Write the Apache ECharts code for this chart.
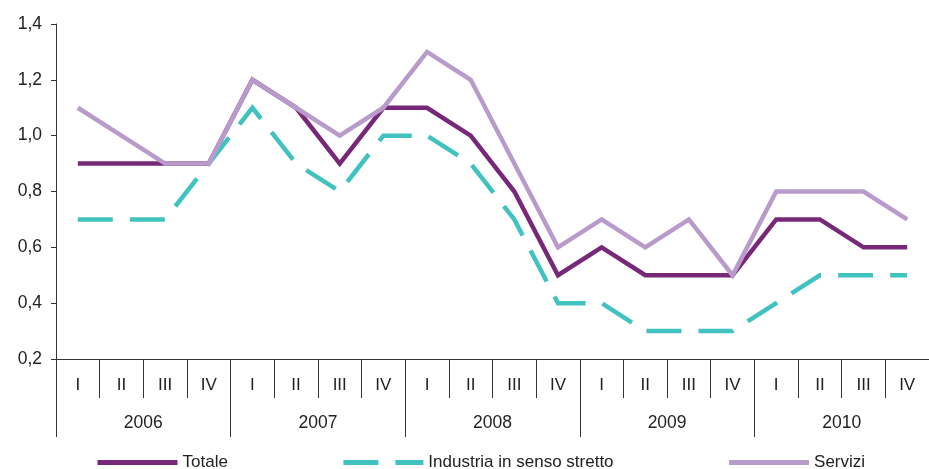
<!DOCTYPE html>
<html>
<head>
<meta charset="utf-8">
<script src="https://cdn.jsdelivr.net/npm/echarts@6/dist/echarts.min.js"></script>
<style>
  html, body { margin: 0; padding: 0; background: #fff; }
  #chart { width: 929px; height: 469px; }
</style>
</head>
<body>
<div id="chart"></div>
<script>
const quarters = ['I', 'II', 'III', 'IV', 'I', 'II', 'III', 'IV', 'I', 'II', 'III', 'IV',
  'I', 'II', 'III', 'IV', 'I', 'II', 'III', 'IV']
const years = ['2006', '2007', '2008', '2009', '2010']

const totale = [0.9, 0.9, 0.9, 0.9, 1.2, 1.1, 0.9, 1.1, 1.1, 1.0, 0.8, 0.5, 0.6, 0.5, 0.5, 0.5, 0.7, 0.7, 0.6, 0.6]
const industria = [0.7, 0.7, 0.7, 0.9, 1.1, 0.9, 0.8, 1.0, 1.0, 0.9, 0.7, 0.4, 0.4, 0.3, 0.3, 0.3, 0.4, 0.5, 0.5, 0.5]
const servizi = [1.1, 1.0, 0.9, 0.9, 1.2, 1.1, 1.0, 1.1, 1.3, 1.2, 0.9, 0.6, 0.7, 0.6, 0.7, 0.5, 0.8, 0.8, 0.8, 0.7]

const font = 'Liberation Sans, Arial, sans-serif'
const axisColor = '#333'
const textColor = '#222'

const chart = echarts.init(document.getElementById('chart'))

function lineSeries(name, data, color, type) {
  return {
    name,
    type: 'line',
    data,
    xAxisIndex: 0,
    symbol: 'none',
    lineStyle: { color, width: 4.5, type: type || 'solid', cap: 'butt', join: 'miter' },
    itemStyle: { color }
  }
}

chart.setOption({
  animation: false,
  textStyle: { fontFamily: font },
  grid: { left: 56, top: 24, width: 876, bottom: 110 },
  legend: {
    left: 90,
    top: 449,
    itemWidth: 80,
    itemHeight: 17,
    itemGap: 113,
    itemStyle: { opacity: 0 },
    lineStyle: { width: 5 },
    textStyle: { fontFamily: font, fontSize: 17, color: textColor },
    data: ['Totale', 'Industria in senso stretto', 'Servizi']
  },
  xAxis: [
    {
      type: 'category',
      data: quarters,
      boundaryGap: true,
      axisLine: { lineStyle: { color: axisColor, width: 1 } },
      axisTick: { show: true, interval: 0, length: 39, lineStyle: { color: axisColor } },
      axisLabel: { interval: 0, margin: 18, fontSize: 17, color: textColor, fontFamily: font }
    },
    {
      type: 'category',
      data: years,
      position: 'bottom',
      boundaryGap: true,
      axisLine: { show: false },
      axisTick: { show: true, interval: 0, length: 78, lineStyle: { color: axisColor } },
      axisLabel: { interval: 0, margin: 55, fontSize: 17.5, color: textColor, fontFamily: font }
    }
  ],
  yAxis: {
    type: 'value',
    min: 0.2,
    max: 1.4,
    interval: 0.2,
    axisLine: { show: true, lineStyle: { color: axisColor, width: 1 } },
    axisTick: { show: true, length: 5, lineStyle: { color: axisColor } },
    splitLine: { show: false },
    axisLabel: {
      margin: 14,
      fontSize: 17.5,
      color: textColor,
      fontFamily: font,
      formatter: (v) => v.toFixed(1).replace('.', ',')
    }
  },
  series: [
    lineSeries('Totale', totale, '#772878'),
    lineSeries('Industria in senso stretto', industria, '#40C2C0', [35, 17]),
    lineSeries('Servizi', servizi, '#B99BCB')
  ]
})
</script>
</body>
</html>
